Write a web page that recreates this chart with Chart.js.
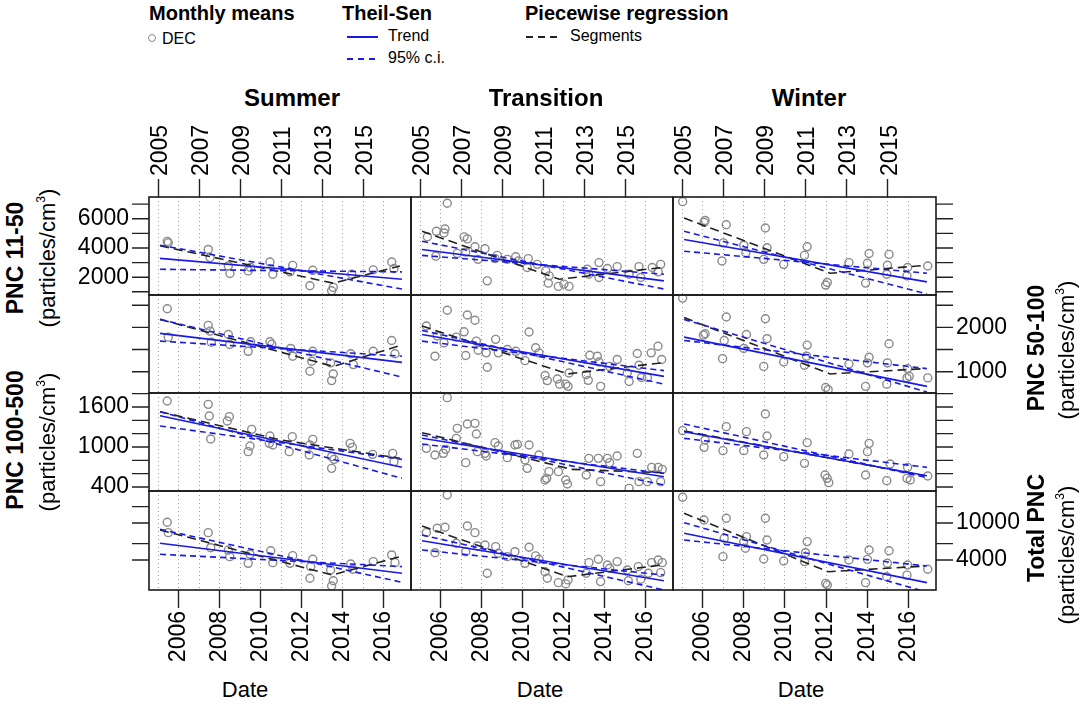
<!DOCTYPE html>
<html>
<head>
<meta charset="utf-8">
<script src="https://cdn.jsdelivr.net/npm/chart.js@4.4.1/dist/chart.umd.min.js"></script>
<style>
  body { margin: 0; width: 1080px; height: 705px; background: #fff; position: relative; overflow: hidden;
         font-family: "Liberation Sans", Arial, sans-serif; color: #000; }
  canvas { position: absolute; }
  .t { position: absolute; white-space: nowrap; line-height: 1; }
  .b { font-weight: bold; }
  .v { transform: translate(-50%, -50%) rotate(-90deg); }
  .c { transform: translate(-50%, -50%); }
  sup { font-size: 0.55em; vertical-align: 0.75em; }
  .sym { position: absolute; }
</style>
</head>
<body>
<script>
// x axis
const gridYears = [2005, 2006, 2007, 2008, 2009, 2010, 2011, 2012, 2013, 2014, 2015, 2016];
const topYears = [2005, 2007, 2009, 2011, 2013, 2015];
const bottomYears = [2006, 2008, 2010, 2012, 2014, 2016];
const lineYears = [2005.1, 2016.9];

// y axis ticks per row
const yTicks = [
  [1000, 2000, 3000, 4000, 5000, 6000, 7000],
  [1000, 1500, 2000, 2500],
  [400, 600, 800, 1000, 1200, 1400, 1600, 1800],
  [4000, 6000, 10000, 15000]
];
const yLabels = [[2000, 4000, 6000], [1000, 2000], [400, 1000, 1600], [4000, 10000]];
const yRange = [[780, 7490], [520, 2730], [340, 1810], [1900, 22080]];

// monthly means (DEC), [year, particles/cm3]
const summer_11_50 = [[2005.45,4450],[2005.5,4350],[2007.45,3900],[2007.54,3340],[2008.43,2770],[2008.51,2250],[2009.4,2430],[2009.52,2660],[2010.46,3040],[2010.6,2200],[2011.44,2360],[2011.57,2810],[2012.55,2470],[2012.41,1410],[2013.47,1070],[2013.55,1300],[2014.45,2200],[2015.5,2500],[2016.4,3040],[2016.51,2590]];
const transition_11_50 = [[2006.33,7060],[2005.36,4760],[2005.8,5140],[2006.22,5300],[2006.17,5030],[2005.77,3440],[2007.15,4760],[2007.31,4620],[2006.82,3630],[2007.23,3715],[2007.68,4080],[2007.83,3220],[2008.17,3950],[2008.28,1750],[2008.66,3270],[2008.77,3490],[2009.26,3220],[2009.67,3400],[2009.8,3105],[2010.28,3270],[2010.23,2660],[2010.72,2880],[2011.13,2430],[2011.3,2090],[2011.26,1590],[2011.75,1370],[2012.02,1525],[2012.27,1370],[2013.16,2540],[2013.24,2200],[2013.73,3000],[2013.73,1980],[2014.14,2590],[2014.62,2725],[2015.2,2200],[2015.68,2725],[2015.77,1980],[2016.33,2660],[2016.74,2880],[2016.62,2360]];
const winter_11_50 = [[2005.03,7170],[2006.12,5885],[2006.07,5750],[2007.15,5590],[2007.01,4350],[2006.94,3105],[2008.0,4190],[2008.1,3675],[2009.05,5370],[2009.13,4015],[2008.97,3220],[2009.94,2880],[2010.95,3490],[2011.08,4080],[2011.98,1460],[2012.06,1640],[2013.11,3000],[2014.01,2950],[2014.09,3625],[2013.92,1595],[2015.06,3560],[2014.98,2815],[2014.95,2205],[2015.96,2660],[2015.93,2090],[2016.94,2765]];

const summer_50_100 = [[2005.45,2420],[2005.5,1780],[2007.45,2045],[2007.54,1915],[2007.6,1665],[2008.43,1840],[2008.5,1615],[2009.4,1460],[2009.52,1675],[2010.46,1675],[2010.55,1620],[2011.47,1525],[2011.57,1350],[2012.55,1460],[2012.41,1010],[2012.5,1235],[2013.42,1200],[2013.55,950],[2013.47,800],[2014.4,1405],[2014.53,1160],[2015.5,1460],[2016.4,1705],[2016.56,1405]];
const transition_50_100 = [[2005.31,2030],[2005.73,1350],[2005.84,1805],[2006.17,1650],[2006.33,2385],[2006.77,1780],[2007.23,1365],[2007.15,1900],[2007.31,2280],[2007.68,2160],[2007.75,1690],[2007.84,1485],[2008.23,1425],[2008.28,1100],[2008.69,1730],[2008.82,1425],[2009.26,1500],[2009.67,1460],[2010.12,1250],[2010.32,1895],[2010.64,1540],[2010.8,1425],[2011.1,915],[2011.21,800],[2011.7,835],[2011.81,720],[2012.11,720],[2012.22,670],[2012.27,970],[2013.11,935],[2013.21,805],[2013.28,1370],[2013.65,1350],[2013.73,1220],[2013.81,670],[2014.25,1120],[2014.62,1275],[2015.2,780],[2015.11,970],[2015.6,1410],[2015.68,1145],[2015.81,870],[2016.09,870],[2016.28,1425],[2016.61,1575],[2016.79,1275]];
const winter_50_100 = [[2005.03,2660],[2006.12,1855],[2006.04,1825],[2007.15,2235],[2007.05,1705],[2006.97,1295],[2008.0,1525],[2008.13,1840],[2009.05,2195],[2009.13,1745],[2008.97,1120],[2009.94,1220],[2010.95,1145],[2011.08,1600],[2011.05,1350],[2011.98,645],[2012.1,595],[2013.11,1175],[2014.09,1325],[2014.01,1200],[2013.92,670],[2015.06,1630],[2014.98,1200],[2014.95,720],[2015.96,1070],[2016.04,895],[2015.93,860],[2016.94,860]];

const summer_100_500 = [[2005.45,1690],[2007.45,1640],[2007.5,1465],[2008.48,1455],[2008.38,1390],[2007.57,1120],[2009.57,1265],[2009.49,1015],[2009.4,930],[2010.46,1165],[2010.43,1055],[2010.6,1030],[2011.55,1155],[2011.4,930],[2012.55,1115],[2012.41,1030],[2012.38,880],[2013.47,855],[2013.59,815],[2013.47,680],[2014.37,1055],[2014.48,995],[2015.47,890],[2016.45,905],[2016.51,780]];
const transition_100_500 = [[2005.31,980],[2005.73,880],[2006.14,905],[2006.25,965],[2006.33,1740],[2006.82,1280],[2006.77,1130],[2007.31,1345],[2007.68,1355],[2007.75,1195],[2007.23,765],[2007.8,930],[2008.17,905],[2008.23,865],[2008.66,1065],[2008.82,1015],[2009.26,840],[2009.63,1030],[2009.75,1040],[2010.12,805],[2010.23,680],[2010.32,1030],[2010.8,880],[2011.29,630],[2011.18,530],[2011.1,505],[2011.75,630],[2012.11,505],[2012.19,445],[2013.11,580],[2013.24,830],[2013.7,830],[2013.81,480],[2014.14,830],[2014.25,765],[2014.62,865],[2015.2,380],[2015.6,905],[2015.68,480],[2016.09,480],[2016.3,695],[2016.62,695],[2016.74,480],[2016.82,665]];
const winter_100_500 = [[2005.03,1245],[2006.07,995],[2006.12,1105],[2007.15,1305],[2006.99,945],[2008.13,1230],[2008.0,945],[2009.05,1495],[2009.13,1165],[2008.97,880],[2009.94,855],[2011.08,1065],[2010.95,755],[2011.95,580],[2012.05,530],[2012.13,465],[2013.11,895],[2014.09,1055],[2014.01,930],[2013.92,580],[2015.11,745],[2014.95,495],[2015.96,695],[2015.93,530],[2016.09,505],[2016.94,565]];

const summer_total = [[2005.45,10170],[2005.5,7870],[2007.45,7870],[2007.57,5420],[2008.43,5110],[2008.5,4340],[2009.49,4600],[2009.4,3680],[2010.5,5030],[2010.6,3740],[2011.57,4450],[2011.44,3680],[2012.55,4070],[2012.45,3390],[2012.41,2540],[2013.42,3120],[2013.55,2390],[2013.47,2100],[2014.4,3620],[2014.5,3180],[2015.5,3840],[2016.4,4530],[2016.56,3740]];
const transition_total = [[2006.33,20000],[2005.31,7870],[2005.73,4790],[2005.84,8770],[2006.22,8990],[2006.77,6050],[2007.23,4910],[2007.31,9290],[2007.68,7870],[2007.8,5660],[2008.17,5800],[2008.28,2880],[2008.69,5560],[2008.82,4720],[2009.26,4340],[2009.63,4910],[2010.12,3680],[2010.32,5480],[2010.64,4420],[2010.8,4070],[2011.1,2990],[2011.21,2540],[2011.75,2280],[2012.11,2210],[2012.22,2440],[2013.11,2880],[2013.24,3740],[2013.7,4070],[2013.81,2340],[2014.14,3530],[2014.25,3260],[2014.62,3840],[2015.16,2390],[2015.11,3120],[2015.65,3390],[2015.77,2480],[2016.14,2880],[2016.3,3740],[2016.62,4000],[2016.74,2920],[2016.82,3740]];
const winter_total = [[2005.03,18900],[2006.07,10770],[2007.15,11240],[2007.05,6840],[2006.99,4340],[2008.0,6300],[2008.08,5340],[2008.13,7130],[2009.05,11240],[2009.13,6560],[2008.97,4100],[2009.94,3900],[2011.08,6300],[2011.0,4790],[2010.95,3840],[2011.98,2240],[2012.06,2150],[2013.11,4000],[2014.09,5120],[2014.01,4060],[2013.92,2280],[2015.06,5030],[2014.98,3680],[2014.95,2640],[2015.96,3530],[2015.93,2750],[2016.94,3180]];

// Theil-Sen trend and 95% c.i. (start, end) per season: summer, transition, winter
const trend_11_50 = [[3290, 1860], [3900, 1750], [4580, 1680]];
const ciA_11_50 = [[4190, 1190], [4460, 1190], [5140, 850]];
const ciB_11_50 = [[2540, 2360], [3490, 2200], [3780, 2270]];
const trend_50_100 = [[1865, 1210], [1840, 895], [1780, 670]];
const ciA_50_100 = [[2180, 880], [1930, 720], [2180, 540]];
const ciB_50_100 = [[1690, 1350], [1690, 1025], [1705, 1070]];
const trend_100_500 = [[1470, 695], [1130, 555], [1230, 570]];
const ciA_100_500 = [[1530, 530], [1180, 430], [1345, 540]];
const ciB_100_500 = [[1315, 815], [1045, 605], [1130, 695]];
const trend_total = [[6050, 2880], [6450, 2390], [7740, 2280]];
const ciA_total = [[8550, 2300], [7430, 1900], [10070, 1800]];
const ciB_total = [[4600, 3390], [5120, 2750], [6560, 3440]];

// piecewise regression: start, break, end values and break year
const seg_11_50 = [[4150, 1590, 2770], [5140, 1860, 2660], [6050, 2270, 2810]];
const segBreak_11_50 = [2013.55, 2011.8, 2012.2];
const seg_50_100 = [[2180, 1120, 1590], [2030, 950, 1200], [2220, 950, 1070]];
const segBreak_50_100 = [2013.55, 2012.2, 2012.2];
const seg_100_500 = [[1530, 1105, 830], [1215, 665, 615], [1240, 900, 570]];
const segBreak_100_500 = [2011.0, 2012.4, 2011.0];
const seg_total = [[8410, 2755, 4340], [9290, 2640, 3530], [12710, 2990, 3440]];
const segBreak_total = [2013.5, 2012.2, 2012.1];

const rows = [
  { pts: [summer_11_50, transition_11_50, winter_11_50], trend: trend_11_50, ciA: ciA_11_50, ciB: ciB_11_50, seg: seg_11_50, brk: segBreak_11_50 },
  { pts: [summer_50_100, transition_50_100, winter_50_100], trend: trend_50_100, ciA: ciA_50_100, ciB: ciB_50_100, seg: seg_50_100, brk: segBreak_50_100 },
  { pts: [summer_100_500, transition_100_500, winter_100_500], trend: trend_100_500, ciA: ciA_100_500, ciB: ciB_100_500, seg: seg_100_500, brk: segBreak_100_500 },
  { pts: [summer_total, transition_total, winter_total], trend: trend_total, ciA: ciA_total, ciB: ciB_total, seg: seg_total, brk: segBreak_total }
];

// panel layout
const colLeft = [149, 411, 673];
const colW = [262, 262, 263];
const rowTop = [197, 295, 393, 491];
const rowH = [98, 98, 98, 99];
const M = 85;
const pxPerYear = 20.5;
const xMin = 2005 - 9 / pxPerYear;
const xMax = xMin + 262 / pxPerYear;
const FONT = "'Liberation Sans', Arial, sans-serif";
const BLUE = '#1a1ae6';
const CLEAR = 'rgba(0,0,0,0)';
const Y_TICK = 17;

// panel border
const framePlugin = {
  id: 'frame',
  afterDraw(chart) {
    const a = chart.chartArea, ctx = chart.ctx;
    ctx.save();
    ctx.strokeStyle = '#1a1a1a';
    ctx.lineWidth = 1.6;
    ctx.strokeRect(a.left, a.top, a.right - a.left, a.bottom - a.top);
    ctx.restore();
  }
};

// outward y tick marks on the outer side of the lattice
const yTickPlugin = {
  id: 'yTickMarks',
  afterDraw(chart, args, opts) {
    if (!opts.side) return;
    const sc = chart.scales.y, a = chart.chartArea, ctx = chart.ctx;
    const x0 = opts.side === 'left' ? a.left : a.right;
    const x1 = opts.side === 'left' ? a.left - Y_TICK : a.right + Y_TICK;
    ctx.save();
    ctx.strokeStyle = '#222';
    ctx.lineWidth = 1.4;
    ctx.beginPath();
    sc.ticks.forEach((t, i) => {
      const y = sc.getPixelForTick(i);
      ctx.moveTo(x0, y);
      ctx.lineTo(x1, y);
    });
    ctx.stroke();
    ctx.restore();
  }
};

function line(x, y, color, dash) {
  return { type: 'scatter', showLine: true, data: x.map((v, i) => ({ x: v, y: y[i] })),
           borderColor: color, borderWidth: 1.6, borderDash: dash, pointRadius: 0, fill: false };
}

function panel(r, c) {
  const row = rows[r];
  const w = colW[c], h = rowH[r];
  const cv = document.createElement('canvas');
  cv.width = w + 2 * M; cv.height = h + 2 * M;
  cv.style.left = (colLeft[c] - M) + 'px';
  cv.style.top = (rowTop[r] - M) + 'px';
  document.body.appendChild(cv);

  const xPos = r === 0 ? 'top' : 'bottom';
  const xLab = r === 0 || r === 3;
  const xShow = v => (r === 0 ? topYears : bottomYears).includes(v) && xLab;
  const yPos = c === 2 ? 'right' : 'left';
  const yTicked = c !== 1;
  const yLab = (c === 0 && (r === 0 || r === 2)) || (c === 2 && (r === 1 || r === 3));
  const yShow = v => yLab && yLabels[r].includes(v);

  const s = row.seg[c];
  const datasets = [
    line(lineYears, row.trend[c], BLUE, []),
    line(lineYears, row.ciA[c], BLUE, [6, 4]),
    line(lineYears, row.ciB[c], BLUE, [6, 4]),
    line([lineYears[0], row.brk[c], lineYears[1] - 0.1], s, '#222', [9, 5]),
    { type: 'scatter', data: row.pts[c].map(p => ({ x: p[0], y: p[1] })),
      pointRadius: 4, pointHoverRadius: 4, pointBorderWidth: 1.4,
      pointBorderColor: '#8a8a8a', pointBackgroundColor: CLEAR }
  ];

  new Chart(cv, {
    type: 'scatter',
    data: { datasets },
    plugins: [framePlugin, yTickPlugin],
    options: {
      responsive: false, animation: false, events: [],
      layout: { padding: {
        top: xPos === 'top' ? 0 : M, bottom: xPos === 'bottom' ? 0 : M,
        left: yPos === 'left' ? 0 : M, right: yPos === 'right' ? 0 : M } },
      plugins: { legend: { display: false }, tooltip: { enabled: false },
                 yTickMarks: { side: yTicked ? yPos : null } },
      scales: {
        x: {
          type: 'linear', position: xPos, min: xMin, max: xMax,
          afterBuildTicks: sc => { sc.ticks = gridYears.map(v => ({ value: v })); },
          afterFit: sc => { sc.height = M; },
          ticks: { display: xLab, autoSkip: false, minRotation: 90, maxRotation: 90, padding: 3,
                   labelOffset: r === 0 ? 30 : 0,
                   color: '#000', font: { family: FONT, size: 23 },
                   callback: v => xShow(v) ? String(v) : '' },
          grid: { drawOnChartArea: true, drawTicks: xLab, tickLength: 18, tickWidth: 1.4,
                  tickColor: ctx => xShow(ctx.tick.value) ? '#222' : CLEAR,
                  color: '#9a9a9a', lineWidth: 1 },
          border: { display: false, dash: [1, 3] }
        },
        y: {
          type: r === 3 ? 'logarithmic' : 'linear', position: yPos,
          min: yRange[r][0], max: yRange[r][1],
          afterBuildTicks: sc => { sc.ticks = yTicks[r].map(v => ({ value: v })); },
          afterFit: sc => { sc.width = M; },
          ticks: { display: yTicked, autoSkip: false, padding: Y_TICK + 3,
                   color: ctx => yShow(ctx.tick.value) ? '#000' : CLEAR,
                   font: { family: FONT, size: 23 },
                   callback: v => String(v) },
          grid: { drawOnChartArea: false, drawTicks: false },
          border: { display: false }
        }
      }
    }
  });
}

for (let r = 0; r < 4; r++) for (let c = 0; c < 3; c++) panel(r, c);

// text
function txt(html, x, y, size, cls) {
  const d = document.createElement('div');
  d.className = 't ' + (cls || '');
  d.style.left = x + 'px'; d.style.top = y + 'px'; d.style.fontSize = size + 'px';
  d.innerHTML = html;
  document.body.appendChild(d);
  return d;
}
const seasons = ['Summer', 'Transition', 'Winter'];
const titleX = [292, 546, 809];
const dateX = [245, 540, 801];
seasons.forEach((s, i) => {
  txt(s, titleX[i], 98, 24, 'b c');
  txt('Date', dateX[i], 690, 22, 'c');
});
const unit = '(particles/cm<sup>3</sup>)';
txt('PNC 11-50', 15, 258, 23, 'b v');
txt(unit, 47, 258, 22, 'v');
txt('PNC 100-500', 15, 440, 23, 'b v');
txt(unit, 47, 442, 22, 'v');
txt('PNC 50-100', 1036, 348, 23, 'b v');
txt(unit, 1066, 350, 22, 'v');
txt('Total PNC', 1036, 528, 23, 'b v');
txt(unit, 1066, 555, 22, 'v');

// legend
txt('Monthly means', 149, 3, 20, 'b');
txt('DEC', 162, 31, 16);
txt('Theil-Sen', 342, 3, 20, 'b');
txt('Trend', 388, 28, 16);
txt('95% c.i.', 388, 50, 16);
txt('Piecewise regression', 525, 3, 20, 'b');
txt('Segments', 570, 28, 16);

function sym(style) {
  const d = document.createElement('div');
  d.className = 'sym';
  Object.assign(d.style, style);
  document.body.appendChild(d);
}
const dashes = (col, on, off) => 'repeating-linear-gradient(to right, ' + col + ' 0 ' + on + 'px, transparent ' + on + 'px ' + (on + off) + 'px)';
sym({ left: '148px', top: '34px', width: '6px', height: '6px', border: '1.4px solid #8a8a8a', borderRadius: '50%' });
sym({ left: '347px', top: '36px', width: '31px', height: '1.6px', background: BLUE });
sym({ left: '347px', top: '58px', width: '31px', height: '1.6px', background: dashes(BLUE, 6, 5) });
sym({ left: '526px', top: '36px', width: '32px', height: '1.6px', background: dashes('#222', 7, 5) });
</script>
</body>
</html>
